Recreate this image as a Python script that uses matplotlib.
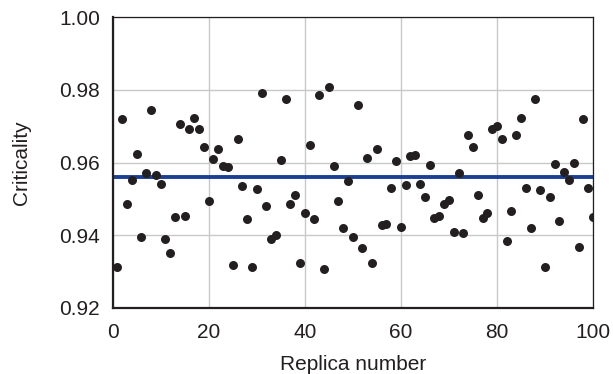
import numpy as np
import matplotlib
matplotlib.use("Agg")
import matplotlib.pyplot as plt

plt.rcParams["font.family"] = ["Liberation Sans", "DejaVu Sans"]

# replica number 1..100 and criticality
replica = np.arange(1, 101)
criticality = [
    0.9313, 0.9719, 0.9486, 0.9553, 0.9624, 0.9395, 0.9571, 0.9745, 0.9565, 0.9542,
    0.9391, 0.9351, 0.9451, 0.9705, 0.9454, 0.9693, 0.9723, 0.9693, 0.9642, 0.9495,
    0.9609, 0.9638, 0.9591, 0.9587, 0.9318, 0.9664, 0.9535, 0.9446, 0.9313, 0.9528,
    0.9790, 0.9480, 0.9390, 0.9402, 0.9608, 0.9774, 0.9486, 0.9512, 0.9325, 0.9461,
    0.9649, 0.9446, 0.9786, 0.9306, 0.9808, 0.9590, 0.9494, 0.9421, 0.9550, 0.9395,
    0.9757, 0.9365, 0.9612, 0.9325, 0.9638, 0.9428, 0.9431, 0.9530, 0.9605, 0.9424,
    0.9539, 0.9619, 0.9622, 0.9542, 0.9506, 0.9594, 0.9447, 0.9453, 0.9486, 0.9498,
    0.9410, 0.9572, 0.9406, 0.9675, 0.9642, 0.9512, 0.9447, 0.9461, 0.9693, 0.9701,
    0.9664, 0.9384, 0.9468, 0.9676, 0.9723, 0.9531, 0.9421, 0.9774, 0.9525, 0.9313,
    0.9506, 0.9597, 0.9439, 0.9575, 0.9553, 0.9598, 0.9369, 0.9719, 0.9531, 0.9451,
]
mean_value = 0.9559

xticks = [0, 20, 40, 60, 80, 100]
yticks = [0.92, 0.94, 0.96, 0.98, 1.00]

fig = plt.figure(figsize=(6.13, 3.74), dpi=100)
ax = fig.add_axes([0.1837, 0.1765, 0.7837, 0.778])

ax.grid(True, color="#c8c8c8", linewidth=1.0)
ax.set_axisbelow(True)

ax.scatter(replica, criticality, s=42, color="#231f20", zorder=3, linewidths=0)
ax.axhline(mean_value, color="#1c3f94", linewidth=2.8, zorder=2)

ax.set_xlim(0, 100)
ax.set_ylim(0.92, 1.00)
ax.set_xticks(xticks)
ax.set_yticks(yticks)
ax.set_yticklabels([f"{v:.2f}" for v in yticks])
ax.tick_params(length=0, labelsize=15, colors="#231f20")
ax.tick_params(axis="x", pad=11)
ax.tick_params(axis="y", pad=9)

for side in ["left", "bottom"]:
    ax.spines[side].set_linewidth(1.6)
for side in ["top", "right"]:
    ax.spines[side].set_linewidth(0.9)
for s in ax.spines.values():
    s.set_color("#231f20")

ax.set_xlabel("Replica number", fontsize=15, color="#231f20", labelpad=9)
ax.set_ylabel("Criticality", fontsize=15, color="#231f20", labelpad=20)

fig.savefig("out.png", dpi=100)
